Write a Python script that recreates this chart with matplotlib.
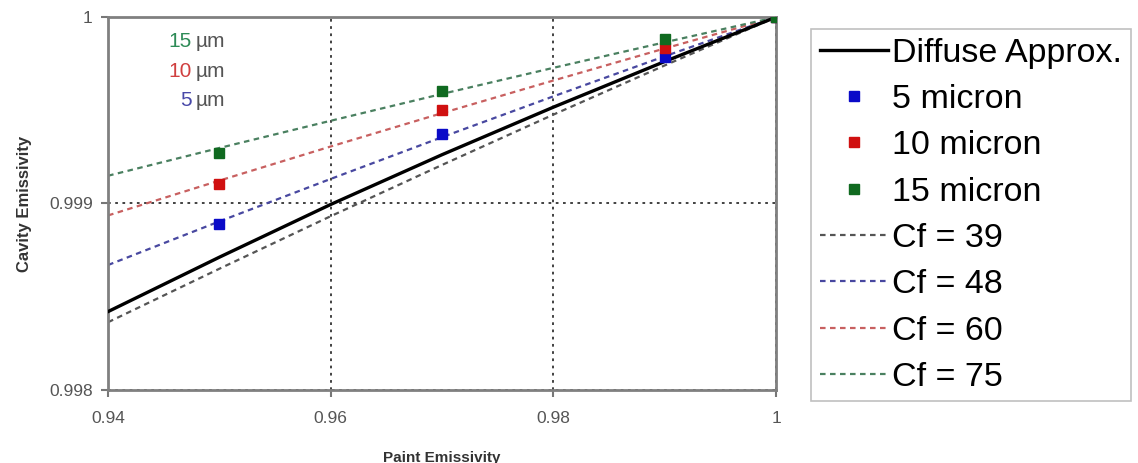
"""
Emissividade da cavidade em funcao da emissividade da tinta.
"""

import matplotlib
matplotlib.use('Agg')
import matplotlib.pyplot as plt

# Emissividade da tinta (eixo x)
emissividade_tinta = [0.94, 0.95, 0.96, 0.97, 0.98, 0.99, 1.0]

# Aproximacao difusa
difusa = [0.99842, 0.998712, 0.998995, 0.999262, 0.999517, 0.999762, 1.0]

# Curvas Cf
cf_39 = [0.998363, 0.99865, 0.998932, 0.999207, 0.999477, 0.999741, 1.0]
cf_48 = [0.99867, 0.998904, 0.999132, 0.999356, 0.999575, 0.99979, 1.0]
cf_60 = [0.998936, 0.999123, 0.999306, 0.999485, 0.99966, 0.999832, 1.0]
cf_75 = [0.999149, 0.999298, 0.999444, 0.999588, 0.999728, 0.999865, 1.0]

# Pontos medidos
x_medidos = [0.95, 0.97, 0.99, 1.0]
micron_5 = [0.998888, 0.999374, 0.999786, 1.0]
micron_10 = [0.999107, 0.999503, 0.999834, 1.0]
micron_15 = [0.999273, 0.999604, 0.999882, 1.0]

plt.rcParams['font.family'] = ['Liberation Sans', 'DejaVu Sans']

fig = plt.figure(figsize=(11.38, 4.63), dpi=100)
ax = fig.add_axes([0.095, 0.158, 0.587, 0.805])

traco = (0, (2.5, 2))
ax.plot(emissividade_tinta, difusa, color='black', lw=2.4, label='Diffuse Approx.', zorder=3)
ax.plot(x_medidos, micron_5, 's', color='#0a0ac8', ms=7, label='5 micron', zorder=5)
ax.plot(x_medidos, micron_10, 's', color='#d01010', ms=7, label='10 micron', zorder=5)
ax.plot(x_medidos, micron_15, 's', color='#106a20', ms=7, label='15 micron', zorder=5)
ax.plot(emissividade_tinta, cf_39, color='#555555', lw=1.6, ls=traco, label='Cf = 39', zorder=2)
ax.plot(emissividade_tinta, cf_48, color='#4848a0', lw=1.6, ls=traco, label='Cf = 48', zorder=2)
ax.plot(emissividade_tinta, cf_60, color='#c86060', lw=1.6, ls=traco, label='Cf = 60', zorder=2)
ax.plot(emissividade_tinta, cf_75, color='#4a8060', lw=1.6, ls=traco, label='Cf = 75', zorder=2)

ax.set_xlim(0.94, 1.0)
ax.set_ylim(0.998, 1.0)
ax.set_xticks([0.94, 0.96, 0.98, 1.0])
ax.set_xticklabels(['0.94', '0.96', '0.98', '1'])
ax.set_yticks([0.998, 0.999, 1.0])
ax.set_yticklabels(['0.998', '0.999', '1'])
ax.tick_params(labelsize=12.5, labelcolor='#555555', color='#777777', direction='out', length=5, width=1.5)
ax.tick_params(axis='x', pad=10)
ax.tick_params(axis='y', pad=6)
ax.grid(True, color='#333333', ls=(0, (1.5, 2.5)), lw=1.3)
for lado in ax.spines.values():
    lado.set_color('#808080')
    lado.set_linewidth(2)

ax.set_xlabel('Paint Emissivity', fontsize=11, fontweight='bold', color='#333333', labelpad=18)
ax.set_ylabel('Cavity Emissivity', fontsize=12, fontweight='bold', color='#333333', labelpad=12)

# Rotulos de espessura
ax.text(0.9475, 0.99987, '15', color='#2e8b57', fontsize=15, ha='right', va='center')
ax.text(0.9475, 0.99971, '10', color='#d04040', fontsize=15, ha='right', va='center')
ax.text(0.9475, 0.99955, '5', color='#4848a8', fontsize=15, ha='right', va='center')
for y in [0.99987, 0.99971, 0.99955]:
    ax.text(0.94785, y, '\u00b5m', color='#555555', fontsize=15, ha='left', va='center')

leg = fig.legend(loc='upper left', bbox_to_anchor=(0.713, 0.937), fontsize=24.5, frameon=True,
                 fancybox=False, edgecolor='#b0b0b0', handlelength=2.0, handletextpad=0.12,
                 labelspacing=0.45, borderpad=0.25, borderaxespad=0)
leg.get_frame().set_linewidth(1.2)

plt.savefig('out.png', dpi=100)
